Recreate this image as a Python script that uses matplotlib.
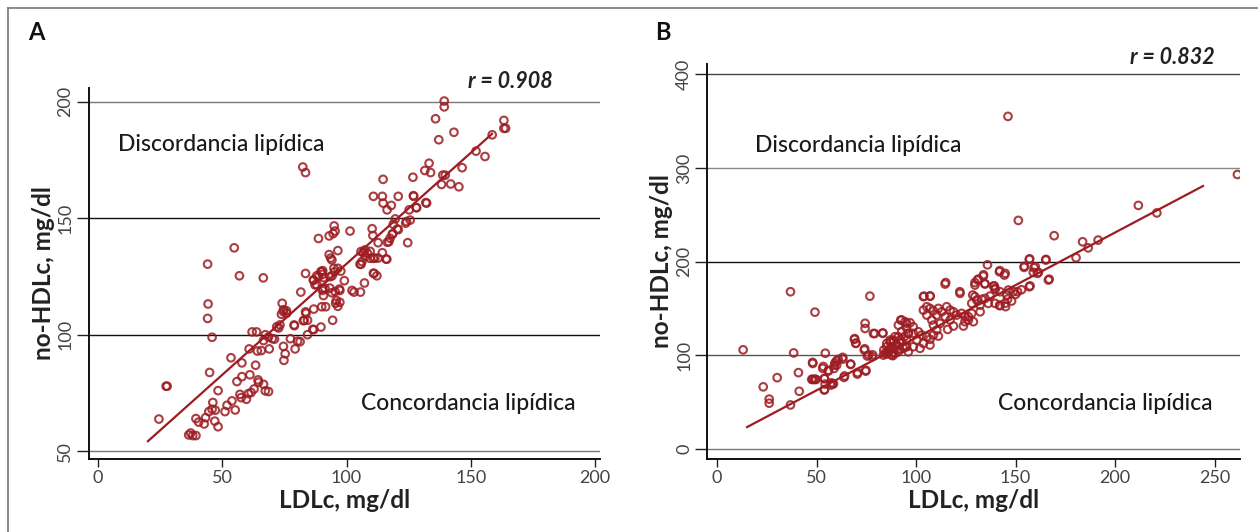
import matplotlib
matplotlib.use("Agg")
import matplotlib.pyplot as plt
from matplotlib.lines import Line2D

plt.rcParams['font.family'] = ['Lato', 'DejaVu Sans']

# Panel A: LDLc vs no-HDLc
ldl_a = [139.3, 139.3, 135.8, 137.1, 143.2, 163.3, 163.3, 164.0, 158.6, 152.1, 155.7, 146.5, 133.2, 131.5,
         133.8, 138.7, 139.7, 138.2, 141.9, 145.2, 126.7, 114.7, 82.4, 83.5,
         110.8, 114.4, 120.8, 127.0, 114.7, 118.0, 116.3, 125.2, 128.2, 132.2, 119.6, 124.1, 125.6, 118.8,
         120.8, 118.6, 117.0, 112.7, 124.6, 110.3, 110.6, 101.4, 95.0, 95.4, 94.6, 93.0, 88.7, 96.5, 114.4,
         106.7, 107.5, 109.5, 111.4, 112.7, 116.2, 106.2, 105.8, 93.0, 93.6, 94.1, 94.9, 96.5, 97.7, 95.2,
         94.2, 90.0, 90.3, 88.0, 83.5, 86.8, 88.0, 99.1, 111.1, 112.2, 107.2, 102.2, 103.0, 105.6, 97.3,
         93.3, 94.1, 90.3, 90.7, 81.6, 66.5, 56.9, 54.8, 44.1, 44.3, 44.1, 45.9, 44.9,
         95.9, 97.3, 96.5, 90.0, 91.6, 86.8, 94.4, 74.1, 74.6, 75.8, 73.8, 83.5, 84.3, 83.0, 79.0, 72.7,
         71.9, 86.8, 89.7, 84.3, 70.1, 71.0, 67.3, 68.6, 62.0, 63.8, 66.6, 68.9, 65.7, 60.8, 64.1, 77.4,
         80.3, 79.3, 74.6, 75.3, 74.8, 53.5, 57.9, 63.4, 57.9, 61.1, 55.9, 64.4, 64.6, 66.6, 67.3, 68.6,
         57.1, 57.6, 59.7, 60.5, 61.6, 62.8, 53.9, 48.3, 27.4, 27.8, 46.2, 45.9, 44.6, 51.9, 51.1, 55.2,
         43.3, 47.0, 48.3, 42.7, 39.4, 40.5, 24.5, 36.5, 37.3, 38.1, 39.4, 47.2,
         116.4, 117.5, 118.4, 120.4, 123.8, 128.0, 131.9, 126.9, 105.8, 107.4, 108.4, 109.5, 110.8, 115.9,
         105.4, 110.8, 97.1, 95.6, 83.7, 82.6, 78.9, 86.4, 81.3, 86.6, 87.3, 88.7, 89.7, 90.4, 90.7, 90.4,
         91.3, 93.4, 95.4, 75.9, 74.6, 73.2]
nohdl_a = [200.3, 197.8, 192.7, 183.7, 186.9, 192.0, 188.6, 188.6, 185.8, 178.8, 176.5, 171.7, 173.6, 170.5,
           169.6, 168.5, 168.5, 164.5, 164.7, 163.5, 167.6, 166.7, 172.0, 169.6,
           159.4, 159.4, 159.4, 159.4, 156.5, 155.5, 153.6, 153.6, 154.5, 156.5, 149.7, 148.6, 149.2, 147.4,
           145.1, 143.4, 139.9, 139.5, 139.5, 145.5, 142.6, 144.5, 146.7, 144.5, 143.4, 142.4, 141.3, 136.1,
           135.2, 135.4, 133.6, 135.8, 132.9, 132.9, 132.4, 131.4, 130.2, 134.4, 132.9, 132.1, 128.5, 128.5,
           127.3, 127.0, 125.3, 127.0, 125.9, 125.3, 126.3, 123.4, 121.5, 123.2, 126.3, 125.3, 122.2, 119.0,
           118.3, 118.3, 119.0, 120.0, 118.0, 119.0, 116.8, 118.3, 124.4, 125.3, 137.3, 130.3, 113.2, 107.0,
           98.9, 83.8,
           114.7, 113.9, 112.2, 112.0, 112.0, 111.0, 106.2, 113.5, 110.7, 110.3, 108.8, 109.8, 106.2, 106.2,
           103.9, 102.9, 103.4, 102.2, 103.3, 100.0, 98.3, 98.1, 100.0, 99.0, 101.2, 101.2, 97.5, 93.9, 93.2,
           93.9, 93.0, 98.3, 97.2, 93.9, 95.0, 91.8, 89.0, 90.1, 87.9, 86.9, 82.0, 82.8, 79.9, 80.6, 79.6,
           78.7, 75.9, 75.6, 74.4, 73.0, 72.3, 74.7, 75.2, 76.7, 71.6, 76.0, 77.9, 77.9, 70.9, 68.0, 67.0,
           69.7, 67.0, 67.7, 64.4, 62.9, 60.5, 61.7, 64.0, 62.5, 63.8, 57.0, 57.8, 56.7, 56.7, 67.6,
           139.7, 141.4, 143.1, 145.4, 147.9, 154.6, 156.7, 159.7, 135.7, 136.4, 135.0, 132.8, 132.8, 132.5,
           130.3, 126.4, 119.6, 113.5, 109.2, 106.0, 104.2, 102.3, 97.0, 123.5, 121.4, 124.9, 127.1, 127.5,
           124.5, 119.9, 119.9, 124.9, 118.5, 109.2, 109.9, 104.2]

# Panel B
ldl_b = [146.2, 261.5, 151.4, 211.7, 221.0, 169.4, 183.7, 186.5, 191.5, 180.4, 157.1, 165.3, 154.4, 159.9,
         158.9, 161.5, 157.3, 166.9, 135.9, 142.1, 144.8, 133.9, 131.2, 114.9, 129.6, 134.5, 139.3, 139.7,
         122.0, 104.0, 107.1, 76.8, 36.9, 49.2, 13.1, 38.5, 54.4, 36.9, 26.2, 26.2, 23.2, 30.2, 40.9, 41.3,
         48.0, 48.0, 49.4, 53.4, 54.0, 54.0, 56.0, 57.5, 58.5, 59.0, 60.1, 63.1, 64.1, 67.1, 70.6, 74.8,
         74.2, 76.2, 78.2, 69.2, 69.8, 74.4, 74.4, 78.6, 79.2, 83.3, 85.3, 86.3, 88.3,
         48.1, 53.1, 55.9, 58.8, 60.1, 60.9, 63.2, 59.3, 67.2, 63.8, 70.5, 74.7, 74.0, 75.5, 78.0, 69.0,
         69.7, 47.6, 48.7, 49.7, 53.9, 54.3, 53.9, 57.1, 58.1,
         83.8, 85.3, 87.0, 88.6, 87.8, 89.4, 91.6, 92.8, 94.1, 92.3, 95.3, 95.3, 96.1, 91.1, 88.6, 90.3,
         87.0, 84.4,
         156.9, 154.3, 159.3, 161.0, 156.9, 166.5, 165.2, 141.9, 144.4, 133.8, 131.0, 129.6, 134.7, 114.6,
         122.1, 103.7, 107.0, 138.9, 139.7, 142.2, 146.4, 148.9, 145.6, 128.5, 129.6, 130.5, 133.0, 134.7,
         136.3, 139.7, 142.2, 144.7, 137.2, 132.2, 128.0,
         103.7, 105.4, 107.0, 108.7, 111.2, 112.9, 115.4, 117.1, 118.8, 120.4, 122.9, 124.6, 126.3, 128.0,
         132.2, 128.8, 124.6, 123.8, 126.3, 105.4, 107.9, 110.4, 114.6, 117.1, 108.7, 112.1, 118.8, 115.9,
         110.4,
         92.8, 94.5, 97.0, 98.6, 95.3, 91.1, 92.8, 96.1, 98.6, 101.2, 102.9, 105.4, 107.0, 108.7, 111.2,
         100.4, 103.7, 107.0, 102.0, 98.6, 95.3, 92.0, 89.4, 88.6, 87.0, 85.3, 87.8, 90.3, 93.6, 91.1, 88.6,
         86.1, 83.6, 96.1, 94.5, 83.3,
         142.0, 145.0, 148.0, 146.0, 150.0, 151.0, 153.0]
nohdl_b = [355.0, 293.0, 244.0, 260.0, 252.0, 227.7, 221.2, 214.7, 223.0, 204.2, 203.0, 202.4, 195.1, 194.7,
           188.6, 188.6, 174.1, 181.3, 196.6, 190.4, 187.5, 186.0, 181.3, 177.7, 177.7, 176.6, 174.1, 170.4,
           167.9, 163.2, 163.2, 163.2, 167.9, 146.1, 105.9, 102.6, 102.3, 47.1, 53.3, 49.0, 66.4, 76.2, 81.6,
           61.7, 92.5, 74.3, 74.3, 88.1, 75.1, 63.5, 84.1, 70.7, 69.6, 89.6, 94.3, 97.9, 78.0, 90.7, 81.6,
           84.1, 107.0, 100.5, 100.5, 117.9, 113.1, 134.2, 128.7, 123.3, 123.3, 124.0, 101.5, 105.9, 99.7,
           91.4, 86.1, 83.2, 86.1, 89.6, 95.7, 96.0, 92.1, 90.4, 76.5, 80.0, 83.2, 105.7, 99.3, 98.5, 117.1,
           112.8, 74.4, 74.4, 74.4, 75.4, 69.4, 63.0, 68.3, 69.4,
           105.7, 109.2, 114.5, 107.5, 100.3, 102.1, 106.4, 114.5, 119.9, 137.7, 134.2, 109.2, 123.5, 119.9,
           116.3, 111.0, 105.7, 102.1,
           202.4, 193.9, 193.5, 187.5, 173.2, 180.4, 201.7, 189.2, 185.7, 184.6, 180.4, 175.0, 176.1, 176.1,
           166.2, 162.6, 163.3, 174.0, 171.5, 167.9, 169.7, 167.9, 164.4, 164.4, 162.6, 159.0, 159.8, 160.8,
           155.5, 155.5, 153.7, 155.5, 163.3, 153.7, 155.5,
           148.3, 151.9, 150.1, 147.6, 150.1, 146.5, 151.9, 148.3, 146.5, 143.0, 144.8, 141.2, 137.7, 144.8,
           146.5, 135.9, 135.9, 131.3, 141.2, 143.0, 137.7, 143.0, 141.2, 137.7, 132.3, 134.1, 131.3, 127.7,
           127.0,
           137.7, 135.9, 134.8, 130.5, 128.8, 132.3, 125.2, 123.5, 123.5, 125.2, 121.7, 119.9, 117.1, 121.7,
           120.6, 116.3, 112.8, 111.0, 107.5, 109.2, 116.3, 116.3, 119.9, 114.5, 116.3, 112.8, 109.2, 111.0,
           107.5, 103.8, 102.1, 103.8, 100.3, 103.8, 109.2, 123.5,
           153.0, 152.0, 158.0, 160.0, 165.0, 168.0, 170.0]

# fitted lines (end points)
fit_a_x = [20.1, 158.5]
fit_a_y = [54.3, 186.2]
fit_b_x = [15.1, 244.2]
fit_b_y = [23.5, 280.7]

xticks_a = [0, 50, 100, 150, 200]
yticks_a = [50, 100, 150, 200]
xticks_b = [0, 50, 100, 150, 200, 250]
yticks_b = [0, 100, 200, 300, 400]

red = '#9c1c22'
W, H = 1258, 532
fig = plt.figure(figsize=(W / 100, H / 100), dpi=100)

# outer frame
fig.add_artist(Line2D([8 / W, 1.0], [1 - 8 / H, 1 - 8 / H], color='#777777', lw=1.2))
fig.add_artist(Line2D([8 / W, 8 / W], [0, 1 - 8 / H], color='#777777', lw=1.2))


def panel(rect, x, y, fx, fy, xlim, ylim, xt, yt, gridcols):
    ax = fig.add_axes(rect)
    for v, c in zip(yt, gridcols):
        ax.axhline(v, color=c, lw=1.0, zorder=1)
    ax.scatter(x, y, s=30, facecolors='none', edgecolors=red, linewidths=1.5, alpha=0.85, zorder=3)
    ax.plot(fx, fy, color=red, lw=1.6, zorder=4)
    ax.set_xlim(*xlim)
    ax.set_ylim(*ylim)
    ax.set_xticks(xt)
    ax.set_yticks(yt)
    ax.set_yticklabels([str(v) for v in yt], rotation=90, va='center')
    ax.tick_params(axis='both', labelsize=13, colors='#222222', labelcolor='#444444', width=1.0)
    ax.tick_params(axis='y', length=9, pad=2)
    ax.tick_params(axis='x', length=6, pad=2)
    for s in ['top', 'right']:
        ax.spines[s].set_visible(False)
    for s in ['left', 'bottom']:
        ax.spines[s].set_linewidth(1.4)
        ax.spines[s].set_color('#111111')
    ax.set_xlabel('LDLc, mg/dl', fontsize=17.5, fontweight='bold', color='#222222', labelpad=2)
    ax.set_ylabel('no-HDLc, mg/dl', fontsize=17.5, fontweight='bold', color='#222222', labelpad=2)
    return ax


axa = panel([0.0704, 0.137, 0.4066, 0.698], ldl_a, nohdl_a, fit_a_x, fit_a_y,
            (-3.8, 202), (46.6, 206), xticks_a, yticks_a,
            ['#777777', '#111111', '#111111', '#777777'])
axb = panel([0.5624, 0.137, 0.4233, 0.7427], ldl_b, nohdl_b, fit_b_x, fit_b_y,
            (-4.8, 262.8), (-10.7, 410.9), xticks_b, yticks_b,
            ['#777777', '#555555', '#111111', '#888888', '#444444'])

txt = dict(fontsize=16.5, color='#1a1a1a', fontweight='medium')
axa.text(8, 181.5, 'Discordancia lipídica', va='center', ha='left', **txt)
axa.text(106, 70.6, 'Concordancia lipídica', va='center', ha='left', **txt)
axa.text(183, 208.6, 'r = 0.908', va='center', ha='right', fontsize=15.5, fontweight='bold',
         style='italic', color='#222222', clip_on=False)
axb.text(19, 324.4, 'Discordancia lipídica', va='center', ha='left', **txt)
axb.text(141.2, 49, 'Concordancia lipídica', va='center', ha='left', **txt)
axb.text(250.3, 418, 'r = 0.832', va='center', ha='right', fontsize=15.5, fontweight='bold',
         style='italic', color='#222222', clip_on=False)

fig.text(36 / W, 1 - 32 / H, 'A', fontsize=17, fontweight='bold', color='#111111', ha='center', va='center')
fig.text(663 / W, 1 - 32 / H, 'B', fontsize=17, fontweight='bold', color='#111111', ha='center', va='center')

fig.savefig('out.png', dpi=100)
